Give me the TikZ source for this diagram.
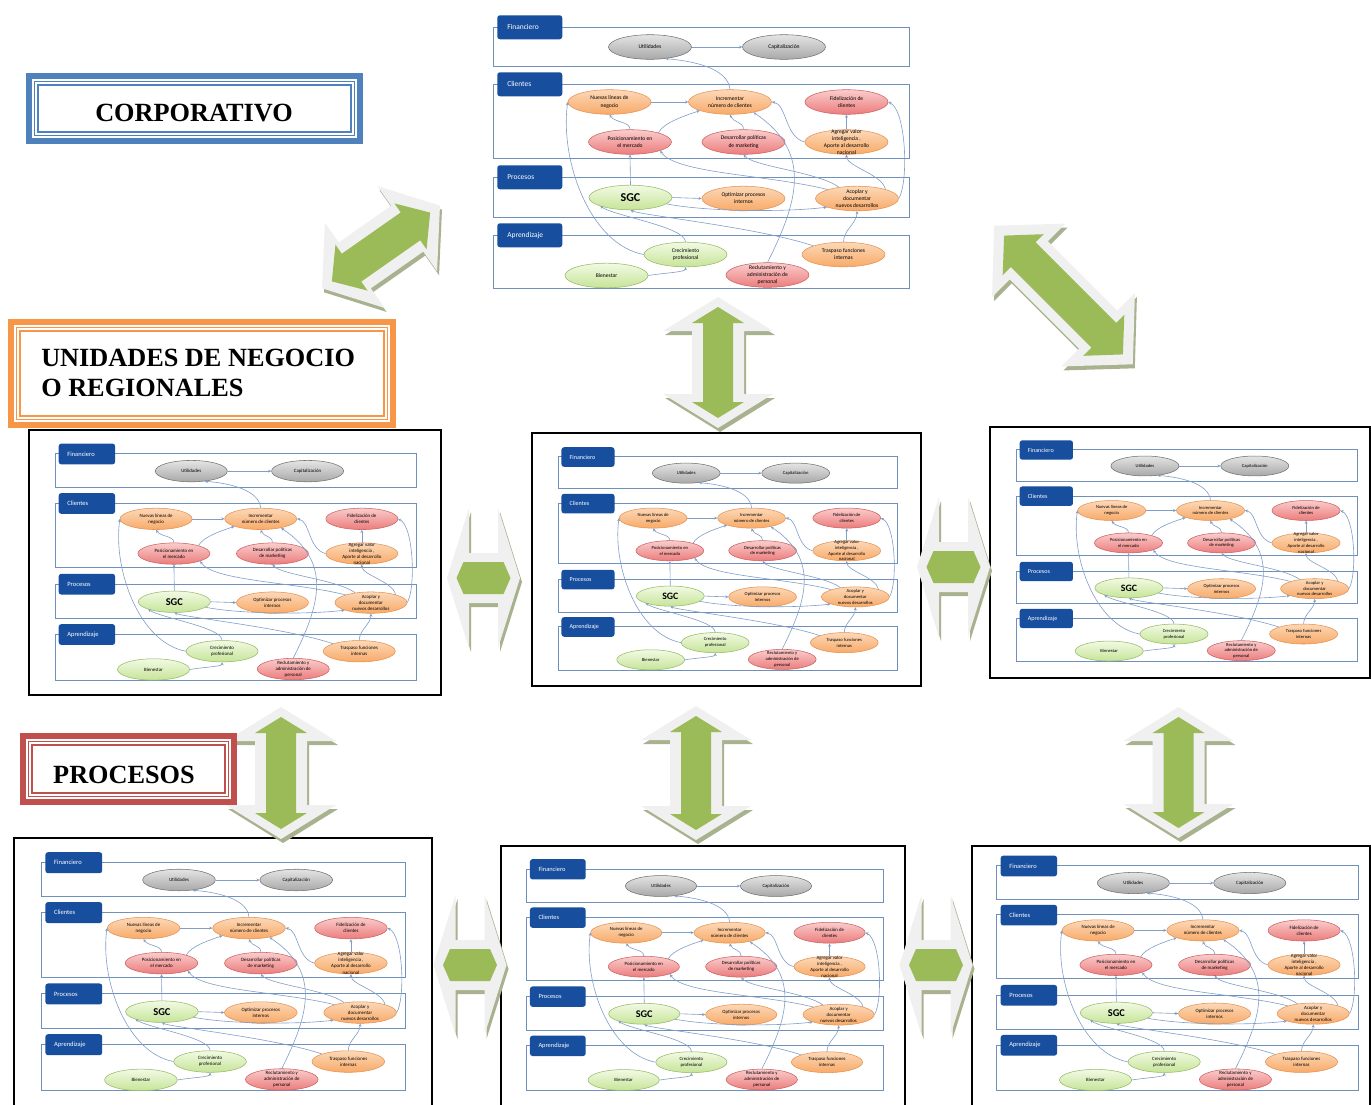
\documentclass[tikz,border=0pt]{standalone}
\usepackage{fontspec}
\setmainfont{Liberation Serif}
\newfontfamily\mapfont{Carlito}
\usetikzlibrary{shapes.geometric,arrows.meta}

\definecolor{tabblue}{RGB}{24,78,158}
\definecolor{bandcol}{RGB}{112,144,188}
\definecolor{concol}{RGB}{128,158,200}
\definecolor{agreen}{RGB}{155,187,89}
\definecolor{ahalo}{RGB}{240,240,240}
\definecolor{ashadow}{RGB}{168,178,142}
\definecolor{corpblue}{RGB}{79,129,189}
\definecolor{unorange}{RGB}{247,150,70}
\definecolor{procred}{RGB}{192,80,77}
\definecolor{orT}{RGB}{252,216,184}\definecolor{orB}{RGB}{248,170,104}\definecolor{orD}{RGB}{228,145,80}
\definecolor{rdT}{RGB}{250,204,204}\definecolor{rdB}{RGB}{236,124,124}\definecolor{rdD}{RGB}{204,96,96}
\definecolor{grT}{RGB}{242,250,228}\definecolor{grB}{RGB}{198,228,152}\definecolor{grD}{RGB}{150,185,100}
\definecolor{gyT}{RGB}{228,228,228}\definecolor{gyB}{RGB}{168,168,168}\definecolor{gyD}{RGB}{112,112,112}

\tikzset{
  band/.style={draw=bandcol,line width=0.65pt},
  tab/.style={fill=tabblue,rounded corners=2pt,text=white,font=\mapfont\fontsize{5.6}{6}\selectfont,
    minimum height=18pt,text width=33.75pt,inner xsep=7.5pt,inner ysep=0pt,align=left,anchor=north west},
  oval/.style={ellipse,minimum width=62.25pt,minimum height=18.45pt,inner sep=0pt,line width=0.4pt},
  ogray/.style={oval,draw=gyD,top color=gyT,bottom color=gyB},
  oorange/.style={oval,draw=orD,top color=orT,bottom color=orB},
  ored/.style={oval,draw=rdD,top color=rdT,bottom color=rdB},
  ogreen/.style={oval,draw=grD,top color=grT,bottom color=grB},
  otext/.style={font=\mapfont\fontsize{4.2}{5.3}\selectfont,align=center,text=black,inner sep=0pt},
  con/.style={draw=concol,line width=0.45pt,-{Stealth[length=2.4pt,width=2.2pt]}},
  mapframe/.style={draw=black,line width=1.5pt},
  title/.style={font=\fontsize{19.7}{22.5}\selectfont\bfseries,inner sep=0pt,text=black}
}

\newcommand{\mapoval}[4]{\node[#3] (#1) at #2 {};\node[otext] (#1-t) at (#1.center) {#4};}

\newcommand{\smap}[5]{%
\begin{scope}[shift={(#2,#3)},xscale=#4,yscale=#5,transform shape]
\draw[band] (3,17) rectangle (419,56);
\draw[band] (3,74) rectangle (419,148);
\draw[band] (3,167) rectangle (419,207);
\draw[band] (3,225) rectangle (419,278);
\node[tab] (#1tf) at (7,5) {Financiero};
\node[tab] (#1tc) at (7,62) {Clientes};
\node[tab] (#1tp) at (7,155) {Procesos};
\node[tab] (#1ta) at (7,213) {Aprendizaje};
\mapoval{#1util}{(160,37)}{ogray}{Utilidades}
\mapoval{#1cap}{(294,37)}{ogray}{Capitalización}
\mapoval{#1nue}{(119.5,92)}{oorange}{Nuevas líneas de\\negocio}
\mapoval{#1inc}{(240,92)}{oorange}{Incrementar\\número de clientes}
\mapoval{#1fid}{(356.5,92)}{ored}{Fidelización de\\clientes}
\mapoval{#1pos}{(140,132)}{ored}{Posicionamiento en\\el mercado}
\mapoval{#1des}{(253.5,132)}{ored}{Desarrollar políticas\\de marketing}
\mapoval{#1agr}{(356.5,132)}{oorange}{Agregar valor\\inteligencia ,\\Aporte al desarrollo\\nacional}
\mapoval{#1sgc}{(140.5,187.5)}{ogreen}{\fontsize{9}{10}\selectfont\bfseries SGC}
\mapoval{#1opt}{(253.5,188.5)}{oorange}{Optimizar procesos\\internos}
\mapoval{#1aco}{(367,188.5)}{oorange}{Acoplar y\\documentar\\nuevos desarrollos}
\mapoval{#1cre}{(195.5,244.5)}{ogreen}{Crecimiento\\profesional}
\mapoval{#1bie}{(116.5,265.5)}{ogreen}{Bienestar}
\mapoval{#1rec}{(277.5,265)}{ored}{Reclutamiento y\\administración de\\personal}
\mapoval{#1tra}{(353.5,244.5)}{oorange}{Traspaso funciones\\internas}
\draw[con] (#1util.east) -- (#1cap.west);
\draw[con] (#1inc.north) .. controls +(-2,-22) and +(25,2) .. (#1util.-37);
\draw[con] (#1nue.east) -- (#1inc.west);
\draw[con] (#1pos.north) .. controls +(0,-8) and +(5,8) .. (#1nue.south);
\draw[con] (#1pos.18) .. controls +(5,-10) and +(-15,5) .. (#1inc.-164);
\draw[con] (#1des.north) .. controls +(0,-8) and +(3,8) .. (#1inc.south);
\draw[con] (#1agr.north) -- (#1fid.south);
\draw[con] (#1agr.west) .. controls +(-20,-5) and +(15,2) .. (#1inc.east);
\draw[con] (#1sgc.north) -- (#1pos.south);
\draw[con] (#1sgc.east) -- (#1opt.west);
\draw[con] (#1sgc.-10) .. controls +(40,8) and +(-40,5) .. (#1aco.-164);
\draw[con] (#1aco.163) .. controls +(-60,-15) and +(15,23) .. (#1pos.-16);
\draw[con] (#1aco.148) .. controls +(-20,-15) and +(10,12) .. (#1des.south);
\draw[con] (#1aco.18) .. controls +(-3,-15) and +(0,12) .. (#1agr.south);
\draw[con] (#1aco.east) .. controls +(10,-16) and +(18,8) .. (#1fid.east);
\draw[con] (#1cre.north) .. controls +(0,-15) and +(15,10) .. (#1sgc.-164);
\draw[con] (#1cre.west) .. controls +(-54,-10) and +(-8,58) .. (#1nue.west);
\draw[con] (#1bie.east) .. controls +(20,-3) and +(0,5) .. (#1cre.south);
\draw[con] (#1rec.north) .. controls +(30,-60) and +(60,40) .. (#1inc.-24);
\draw[con] (#1tra.164) .. controls +(-53,-18) and +(10,5) .. (#1sgc.south);
\draw[con] (#1tra.north) .. controls +(0,-12) and +(0,12) .. (#1aco.south);
\end{scope}}

\newcommand{\arrpoly}[4]{(-#1,0) -- (-#1+#2,#3) -- (-#1+#2,#4) -- (#1-#2,#4) -- (#1-#2,#3) -- (#1,0) -- (#1-#2,-#3) -- (#1-#2,-#4) -- (-#1+#2,-#4) -- (-#1+#2,-#3) -- cycle}
\newcommand{\darrow}[4]{%
  \fill[ashadow,shift={(#1)},shift={(2,4)},rotate=#2] \arrpoly#3;
  \fill[ahalo,shift={(#1)},rotate=#2] \arrpoly#3;
  \fill[agreen,shift={(#1)},rotate=#2] \arrpoly#4;}

\newcommand{\titlebox}[5]{%
  \fill[#5] (#1,#2) rectangle (#3,#4);
  \fill[white] (#1+6,#2+6) rectangle (#3-6,#4-6);
  \draw[#5,line width=0.9pt] (#1+8.5,#2+8.5) rectangle (#3-8.5,#4-8.5);
  \draw[#5,line width=0.9pt] (#1+12,#2+12) rectangle (#3-12,#4-12);}

\begin{document}
\begin{tikzpicture}[x=0.75pt,y=-0.75pt]
\fill[white] (0,0) rectangle (1371,1104);
\useasboundingbox (0,0) rectangle (1371,1104);

% maps
\smap{T}{490}{10}{1}{1}
\smap{ML}{52.4}{439}{0.868}{0.868}
\smap{MC}{555.5}{442.9}{0.817}{0.817}
\smap{MR}{1013.7}{436}{0.82}{0.81}
\smap{BL}{39}{847.6}{0.875}{0.875}
\smap{BC}{523.7}{854.6}{0.858}{0.849}
\smap{BR}{994.3}{851.1}{0.869}{0.862}

% frames
\draw[mapframe] (29,430) rectangle (441,695);
\draw[mapframe] (532,433) rectangle (921,686);
\draw[mapframe] (990,427) rectangle (1370,678);
\draw[mapframe] (14,838) rectangle (432,1112);
\draw[mapframe] (501,846) rectangle (905,1112);
\draw[mapframe] (972,846) rectangle (1370,1112);

% big arrows
\darrow{381,247}{35}{{72}{40}{52}{28}}{{60}{24}{28}{17}}
\darrow{1063.5,295}{-45}{{98}{49}{52}{27}}{{84}{27}{29}{17.5}}
\darrow{718,362.5}{90}{{65.5}{34}{55}{26}}{{55.5}{16}{26}{15}}
\darrow{281,773}{90}{{66}{34}{55}{26}}{{56}{16}{26}{15}}
\darrow{696,773}{90}{{67}{34}{55}{26}}{{57}{16}{26}{15}}
\darrow{1178.5,772.5}{90}{{65.5}{34}{55}{26}}{{55.5}{16}{26}{15}}
% small horizontal arrows
\darrow{483.5,578}{0}{{36.5}{22}{70}{25}}{{27}{7}{16}{16}}
\darrow{953.5,567}{0}{{36.5}{22}{70}{25}}{{27}{7}{16}{16}}
\darrow{470,965}{0}{{36.5}{22}{70}{25}}{{27}{7}{16}{16}}
\darrow{936,965}{0}{{36.5}{22}{70}{25}}{{27}{7}{16}{16}}

% title boxes
\titlebox{26}{73}{363}{144}{corpblue}
\node[title,anchor=base] (corp) at (194,121.5) {CORPORATIVO};
\titlebox{8}{319}{396}{428}{unorange}
\node[title,anchor=north west,align=left] (unid) at (41,349) {UNIDADES DE NEGOCIO\\O REGIONALES};
\titlebox{20}{733}{237}{805}{procred}
\node[title,anchor=base] (proc) at (124,783) {PROCESOS};
\end{tikzpicture}
\end{document}
